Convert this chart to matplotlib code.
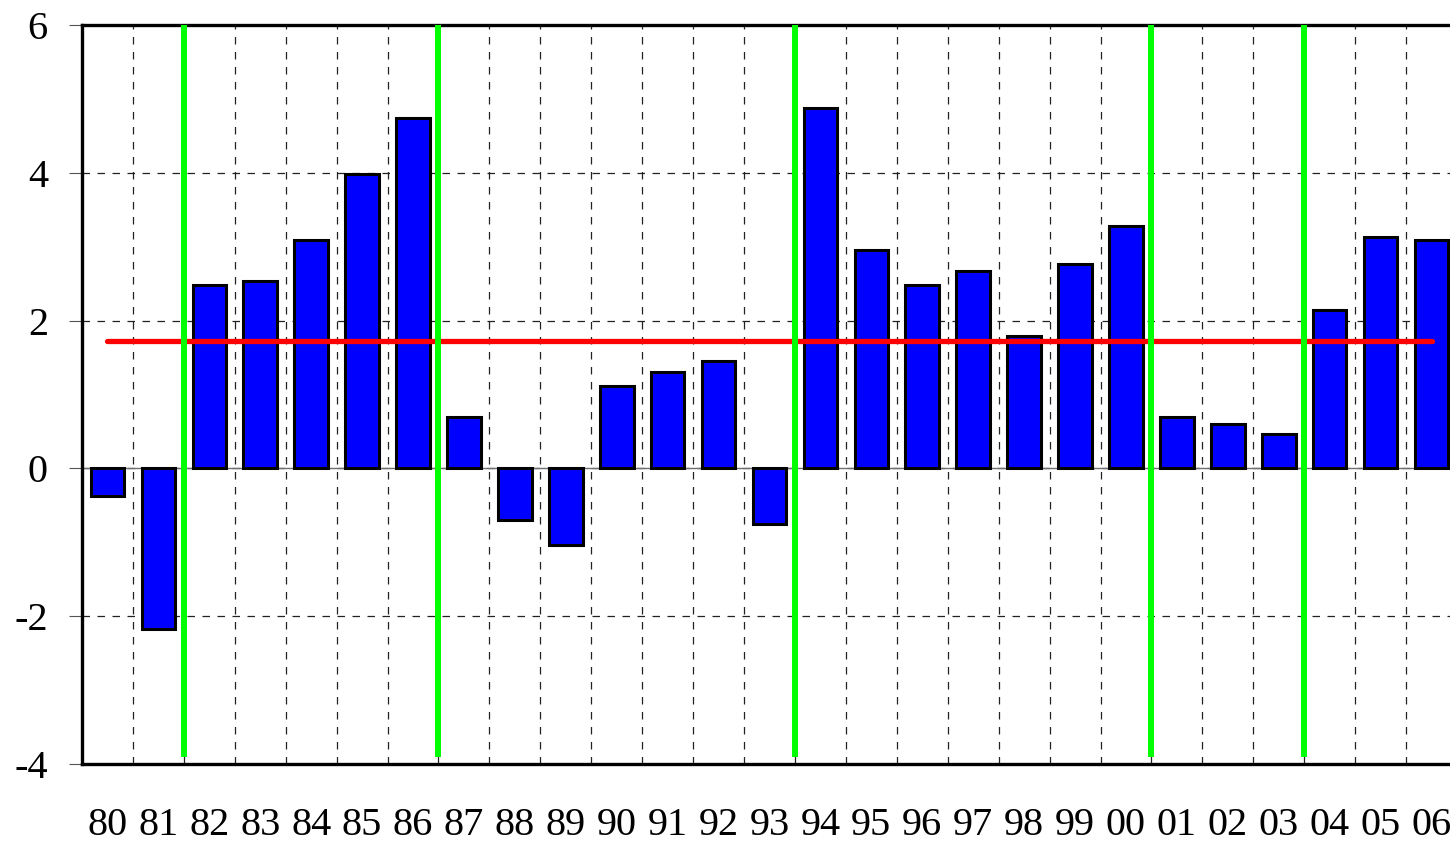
import matplotlib
matplotlib.use("Agg")
import matplotlib.pyplot as plt
import numpy as np

# ---- data ----
years = ["80", "81", "82", "83", "84", "85", "86", "87", "88", "89", "90", "91", "92", "93",
         "94", "95", "96", "97", "98", "99", "00", "01", "02", "03", "04", "05", "06"]
values = [-0.38, -2.17, 2.48, 2.54, 3.09, 3.98, 4.74, 0.70, -0.70, -1.04, 1.12, 1.31, 1.45, -0.75,
          4.88, 2.95, 2.48, 2.67, 1.79, 2.77, 3.28, 0.70, 0.60, 0.47, 2.15, 3.13, 3.09]
mean_level = 1.73
breaks = [1.5, 6.5, 13.5, 20.5, 23.5]   # positions of the green vertical lines (between categories)
yticks = [-4, -2, 0, 2, 4, 6]
ytick_labels = ["-4", "-2", "0", "2", "4", "6"]

plt.rcParams['font.family'] = ['Liberation Serif', 'DejaVu Serif']

fig = plt.figure(figsize=(14.5, 8.44), dpi=100)
ax = fig.add_axes([82 / 1450, (844 - 764) / 844, (1457 - 82) / 1450, (764 - 25) / 844])

x = np.arange(len(years))
ax.bar(x, values, width=0.66, color="#0000ff", edgecolor="black", linewidth=2.2, zorder=3)

# zero line
ax.axhline(0, color="#707070", linewidth=1.0, zorder=2)

# mean line
ax.plot([x[0], x[-1]], [mean_level, mean_level], color="#ff0000", linewidth=3.8,
        solid_capstyle="round", zorder=4)

# green break lines
for b in breaks:
    ax.plot([b, b], [-3.9, 6], color="#00ff00", linewidth=4.3, zorder=5, solid_capstyle="butt")

ax.set_xlim(-0.5, len(years) - 0.5)
ax.set_ylim(-4, 6)

ax.set_yticks(yticks)
ax.set_yticklabels(ytick_labels)
ax.set_xticks(x)
ax.set_xticklabels(years)
ax.set_xticks(x[:-1] + 0.5, minor=True)

ax.tick_params(axis="y", which="major", length=9.5, width=0.8, color="#555555",
               labelsize=29, pad=15)
ax.tick_params(axis="x", which="major", length=0, labelsize=29, pad=31)
ax.tick_params(axis="x", which="minor", length=0)

ax.grid(axis="y", which="major", color="#222222", linestyle=(0, (6, 6)), linewidth=0.9, zorder=1)
ax.grid(axis="x", which="minor", color="#222222", linestyle=(0, (6, 6)), linewidth=0.9, zorder=1)
ax.set_axisbelow(True)

for s in ax.spines.values():
    s.set_linewidth(2.4)
    s.set_color("black")

fig.savefig("out.png", dpi=100)
